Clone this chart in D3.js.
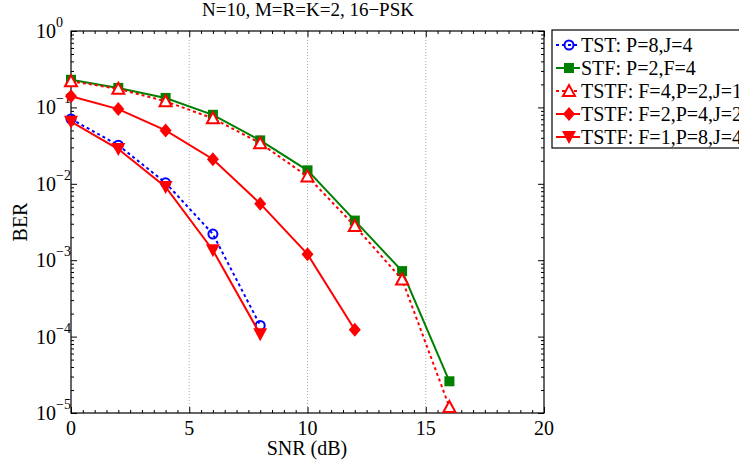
<!DOCTYPE html>
<html>
<head>
<meta charset="utf-8">
<script src="https://cdn.jsdelivr.net/npm/d3@7"></script>
<style>
  body { margin: 0; background: #fff; }
  svg { font-family: "Liberation Serif", "Times New Roman", serif; }
</style>
</head>
<body>
<svg id="chart" width="739" height="468"></svg>
<script>
// data
const snr = [0, 2, 4, 6, 8, 10, 12, 14, 16];
const berTST = [0.0705, 0.032, 0.0103, 0.0022, 0.00014];
const berSTF = [0.23, 0.18, 0.133, 0.08, 0.037, 0.015, 0.0033, 0.00072, 0.000026];
const berF4 = [0.22, 0.175, 0.12, 0.072, 0.034, 0.0125, 0.0028, 0.00056, 0.000012];
const berF2 = [0.14, 0.095, 0.05, 0.021, 0.0055, 0.0012, 0.000123];
const berF1 = [0.065, 0.0285, 0.0091, 0.00135, 0.000107];
const legendLabels = ["TST: P=8,J=4", "STF: P=2,F=4", "TSTF: F=4,P=2,J=1", "TSTF: F=2,P=4,J=2", "TSTF: F=1,P=8,J=4"];
const xTicks = [0, 5, 10, 15, 20];
const yExps = [0, -1, -2, -3, -4, -5];

const series = [
  { vals: berTST, color: "#0000ff", dash: "3,3", marker: "circle" },
  { vals: berSTF, color: "#008000", dash: null, marker: "square" },
  { vals: berF4, color: "#ff0000", dash: "3,3", marker: "triangle" },
  { vals: berF2, color: "#ff0000", dash: null, marker: "diamond" },
  { vals: berF1, color: "#ff0000", dash: null, marker: "triangleDown" }
];

const svg = d3.select("#chart");
const pLeft = 71, pRight = 544, pTop = 31, pBottom = 413;

const x = d3.scaleLinear().domain([0, 20]).range([pLeft, pRight]);
const y = d3.scaleLog().domain([1e-5, 1]).range([pBottom, pTop]);

// vertical dotted grid
svg.append("g").selectAll("line")
  .data([5, 10, 15]).join("line")
  .attr("x1", d => x(d)).attr("x2", d => x(d))
  .attr("y1", pTop).attr("y2", pBottom)
  .attr("stroke", "#aaa").attr("stroke-width", 1)
  .attr("stroke-dasharray", "1,2");

// axes with inward ticks
const minorX = d3.range(0, 20.01, 0.5).filter(d => d % 5 !== 0);
const minorY = [];
for (let e = -5; e < 0; e++) for (let m = 2; m <= 9; m++) minorY.push(m * Math.pow(10, e));

function axisGroup(axis, tx, ty) {
  const g = svg.append("g").attr("transform", `translate(${tx},${ty})`).call(axis);
  g.select(".domain").remove();
  g.selectAll("text").remove();
  g.selectAll("line").attr("stroke", "#000");
  return g;
}
axisGroup(d3.axisBottom(x).tickValues(xTicks).tickSize(-6), 0, pBottom);
axisGroup(d3.axisBottom(x).tickValues(minorX).tickSize(-3), 0, pBottom);
axisGroup(d3.axisTop(x).tickValues(xTicks).tickSize(-6), 0, pTop);
axisGroup(d3.axisTop(x).tickValues(minorX).tickSize(-3), 0, pTop);
const yMajor = yExps.map(e => Math.pow(10, e));
axisGroup(d3.axisLeft(y).tickValues(yMajor).tickSize(-6), pLeft, 0);
axisGroup(d3.axisLeft(y).tickValues(minorY).tickSize(-3), pLeft, 0);
axisGroup(d3.axisRight(y).tickValues(yMajor).tickSize(-6), pRight, 0);
axisGroup(d3.axisRight(y).tickValues(minorY).tickSize(-3), pRight, 0);

svg.append("rect")
  .attr("x", pLeft).attr("y", pTop)
  .attr("width", pRight - pLeft).attr("height", pBottom - pTop)
  .attr("fill", "none").attr("stroke", "#000").attr("stroke-width", 1.2);

// tick labels
svg.append("g").selectAll("text")
  .data(xTicks).join("text")
  .attr("x", d => x(d)).attr("y", 435)
  .attr("text-anchor", "middle").attr("font-size", 20)
  .text(d => d);

const yl = svg.append("g").selectAll("text")
  .data(yExps).join("text")
  .attr("x", 36).attr("y", d => y(Math.pow(10, d)) + 7)
  .attr("font-size", 20);
yl.append("tspan").text("10");
yl.append("tspan").attr("dy", -11).attr("font-size", 14)
  .text(d => d === 0 ? "0" : "\u2212" + Math.abs(d));

// axis titles
svg.append("text").attr("x", 307).attr("y", 455)
  .attr("text-anchor", "middle").attr("font-size", 20).text("SNR (dB)");
svg.append("text").attr("transform", "translate(27,222) rotate(-90)")
  .attr("text-anchor", "middle").attr("font-size", 20).text("BER");
svg.append("text").attr("x", 308).attr("y", 16)
  .attr("text-anchor", "middle").attr("font-size", 19).text("N=10, M=R=K=2, 16\u2212PSK");

// markers
function drawMarker(g, type, color, cx, cy) {
  if (type === "circle") {
    g.append("circle").attr("cx", cx).attr("cy", cy).attr("r", 4.5)
      .attr("fill", "none").attr("stroke", color).attr("stroke-width", 2);
  } else if (type === "square") {
    g.append("rect").attr("x", cx - 5).attr("y", cy - 5).attr("width", 10).attr("height", 10)
      .attr("fill", color);
  } else if (type === "triangle") {
    g.append("path").attr("d", `M${cx},${cy - 6}L${cx + 6},${cy + 5}L${cx - 6},${cy + 5}Z`)
      .attr("fill", "#fff").attr("stroke", color).attr("stroke-width", 2);
  } else if (type === "diamond") {
    g.append("path").attr("d", `M${cx},${cy - 7}L${cx + 6},${cy}L${cx},${cy + 7}L${cx - 6},${cy}Z`)
      .attr("fill", color);
  } else if (type === "triangleDown") {
    g.append("path").attr("d", `M${cx - 7},${cy - 6}L${cx + 7},${cy - 6}L${cx},${cy + 7}Z`)
      .attr("fill", color);
  }
}

const line = d3.line().x(d => x(d[0])).y(d => y(d[1]));
series.forEach(s => {
  const pts = s.vals.map((v, i) => [snr[i], v]);
  svg.append("path").datum(pts)
    .attr("d", line).attr("fill", "none")
    .attr("stroke", s.color).attr("stroke-width", 2)
    .attr("stroke-dasharray", s.dash);
  const g = svg.append("g");
  pts.forEach(p => drawMarker(g, s.marker, s.color, x(p[0]), y(p[1])));
});

// legend (runs off the right edge, as in the original)
const lg = svg.append("g");
lg.append("rect").attr("x", 552).attr("y", 30).attr("width", 220).attr("height", 118)
  .attr("fill", "#fff").attr("stroke", "#000").attr("stroke-width", 1.2);
series.forEach((s, i) => {
  const ly = 45 + i * 23;
  lg.append("line").attr("x1", 556).attr("x2", 580).attr("y1", ly).attr("y2", ly)
    .attr("stroke", s.color).attr("stroke-width", 2).attr("stroke-dasharray", s.dash);
  drawMarker(lg, s.marker, s.color, 569, ly);
  lg.append("text").attr("x", 581).attr("y", ly + 7).attr("font-size", 20).text(legendLabels[i]);
});
</script>
</body>
</html>
